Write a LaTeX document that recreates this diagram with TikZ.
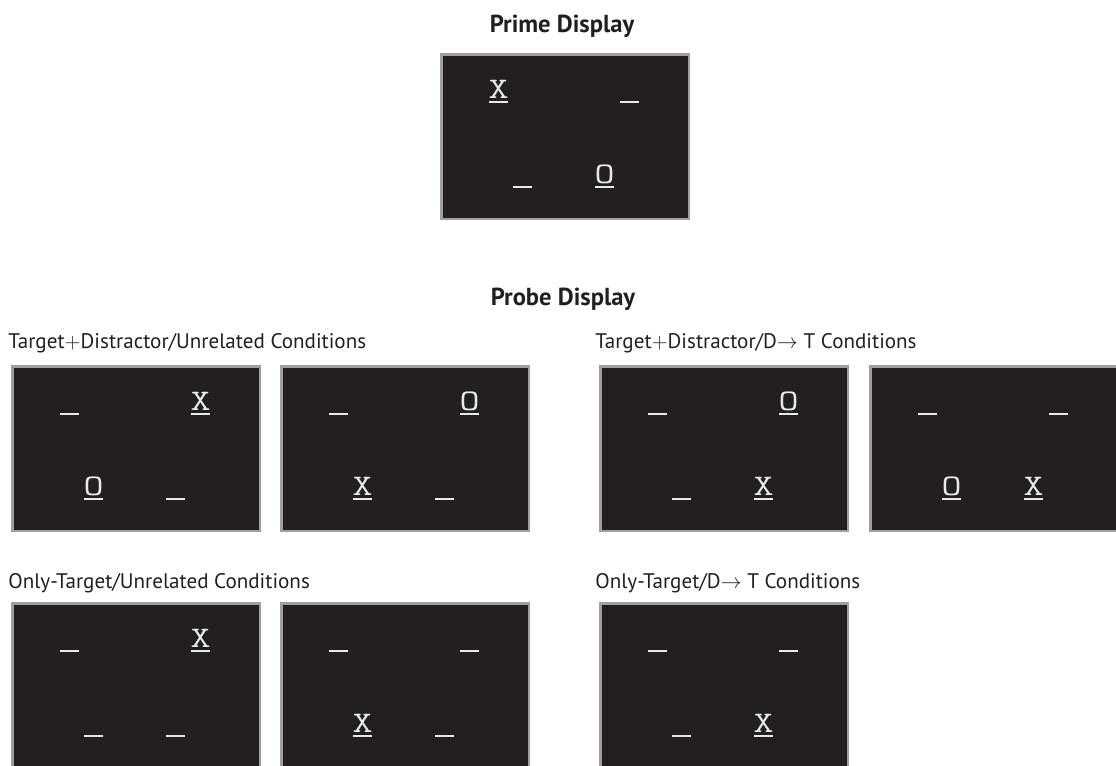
\documentclass[tikz,border=0pt]{standalone}
\usepackage{fontspec}
\setmainfont{PT Sans}
\usetikzlibrary{positioning}

\definecolor{screenbg}{RGB}{35,31,32}
\definecolor{screenrim}{RGB}{157,159,162}
\definecolor{glyphwhite}{RGB}{232,232,232}
\definecolor{inktext}{RGB}{35,31,32}

\tikzset{
  screen/.style={draw=screenrim, fill=screenbg, line width=1.4pt, inner sep=0pt,
    minimum width=4.95cm, minimum height=3.29cm, anchor=north west},
  glyph/.style={text=glyphwhite, inner sep=0pt, anchor=base,
    font=\ttfamily\fontsize{17}{17}\selectfont},
  bar/.style={draw=glyphwhite, line width=0.9pt},
  title/.style={text=inktext, inner sep=0pt, anchor=base,
    font=\bfseries\fontsize{14}{16}\selectfont},
  cond/.style={text=inktext, inner sep=0pt, anchor=base west,
    font=\fontsize{12}{14}\selectfont}
}

\begin{document}
\begin{tikzpicture}[x=0.02cm, y=-0.02cm]
  \useasboundingbox (0,0) rectangle (1116,765);
  \clip (0,0) rectangle (1116,765);

  % headings
  \node[title] (primetitle) at (562,32) {Prime Display};
  \node[title] (probetitle) at (563,305) {Probe Display};

  \node[cond] (tdunrel) at (8,348) {Target$+$Distractor/Unrelated Conditions};
  \node[cond] (tddt) at (595,348) {Target$+$Distractor/D$\rightarrow$ T Conditions};
  \node[cond] (otunrel) at (8,588) {Only-Target/Unrelated Conditions};
  \node[cond] (otdt) at (595,588) {Only-Target/D$\rightarrow$ T Conditions};

  % prime display
  \begin{scope}[shift={(439,52)}]
    \node[screen] (prime) at (1.25,1.25) {};
    \draw[bar] (50,50) -- +(19,0) (181,50) -- +(19,0) (74,135) -- +(19,0) (156,135) -- +(19,0);
    \node[glyph] (prime-x) at (59.5,46) {\scalebox{1.3}[1]{X}};
    \node[glyph] (prime-o) at (165.5,131) {\scalebox{1.3}[1]{O}};
  \end{scope}

  % probe displays, target + distractor / unrelated
  \begin{scope}[shift={(10,364)}]
    \node[screen] (tdu1) at (1.25,1.25) {};
    \draw[bar] (50,50) -- +(19,0) (181,50) -- +(19,0) (74,135) -- +(19,0) (156,135) -- +(19,0);
    \node[glyph] (tdu1-x) at (190.5,46) {\scalebox{1.3}[1]{X}};
    \node[glyph] (tdu1-o) at (83.5,131) {\scalebox{1.3}[1]{O}};
  \end{scope}
  \begin{scope}[shift={(279,364)}]
    \node[screen] (tdu2) at (1.25,1.25) {};
    \draw[bar] (50,50) -- +(19,0) (181,50) -- +(19,0) (74,135) -- +(19,0) (156,135) -- +(19,0);
    \node[glyph] (tdu2-o) at (190.5,46) {\scalebox{1.3}[1]{O}};
    \node[glyph] (tdu2-x) at (83.5,131) {\scalebox{1.3}[1]{X}};
  \end{scope}

  % target + distractor / D -> T
  \begin{scope}[shift={(598,364)}]
    \node[screen] (tdd1) at (1.25,1.25) {};
    \draw[bar] (50,50) -- +(19,0) (181,50) -- +(19,0) (74,135) -- +(19,0) (156,135) -- +(19,0);
    \node[glyph] (tdd1-o) at (190.5,46) {\scalebox{1.3}[1]{O}};
    \node[glyph] (tdd1-x) at (165.5,131) {\scalebox{1.3}[1]{X}};
  \end{scope}
  \begin{scope}[shift={(868,364)}]
    \node[screen] (tdd2) at (1.25,1.25) {};
    \draw[bar] (50,50) -- +(19,0) (181,50) -- +(19,0) (74,135) -- +(19,0) (156,135) -- +(19,0);
    \node[glyph] (tdd2-o) at (83.5,131) {\scalebox{1.3}[1]{O}};
    \node[glyph] (tdd2-x) at (165.5,131) {\scalebox{1.3}[1]{X}};
  \end{scope}

  % only target / unrelated
  \begin{scope}[shift={(10,601)}]
    \node[screen] (otu1) at (1.25,1.25) {};
    \draw[bar] (50,50) -- +(19,0) (181,50) -- +(19,0) (74,135) -- +(19,0) (156,135) -- +(19,0);
    \node[glyph] (otu1-x) at (190.5,46) {\scalebox{1.3}[1]{X}};
  \end{scope}
  \begin{scope}[shift={(279,601)}]
    \node[screen] (otu2) at (1.25,1.25) {};
    \draw[bar] (50,50) -- +(19,0) (181,50) -- +(19,0) (74,135) -- +(19,0) (156,135) -- +(19,0);
    \node[glyph] (otu2-x) at (83.5,131) {\scalebox{1.3}[1]{X}};
  \end{scope}

  % only target / D -> T
  \begin{scope}[shift={(598,601)}]
    \node[screen] (otd1) at (1.25,1.25) {};
    \draw[bar] (50,50) -- +(19,0) (181,50) -- +(19,0) (74,135) -- +(19,0) (156,135) -- +(19,0);
    \node[glyph] (otd1-x) at (165.5,131) {\scalebox{1.3}[1]{X}};
  \end{scope}
\end{tikzpicture}
\end{document}
